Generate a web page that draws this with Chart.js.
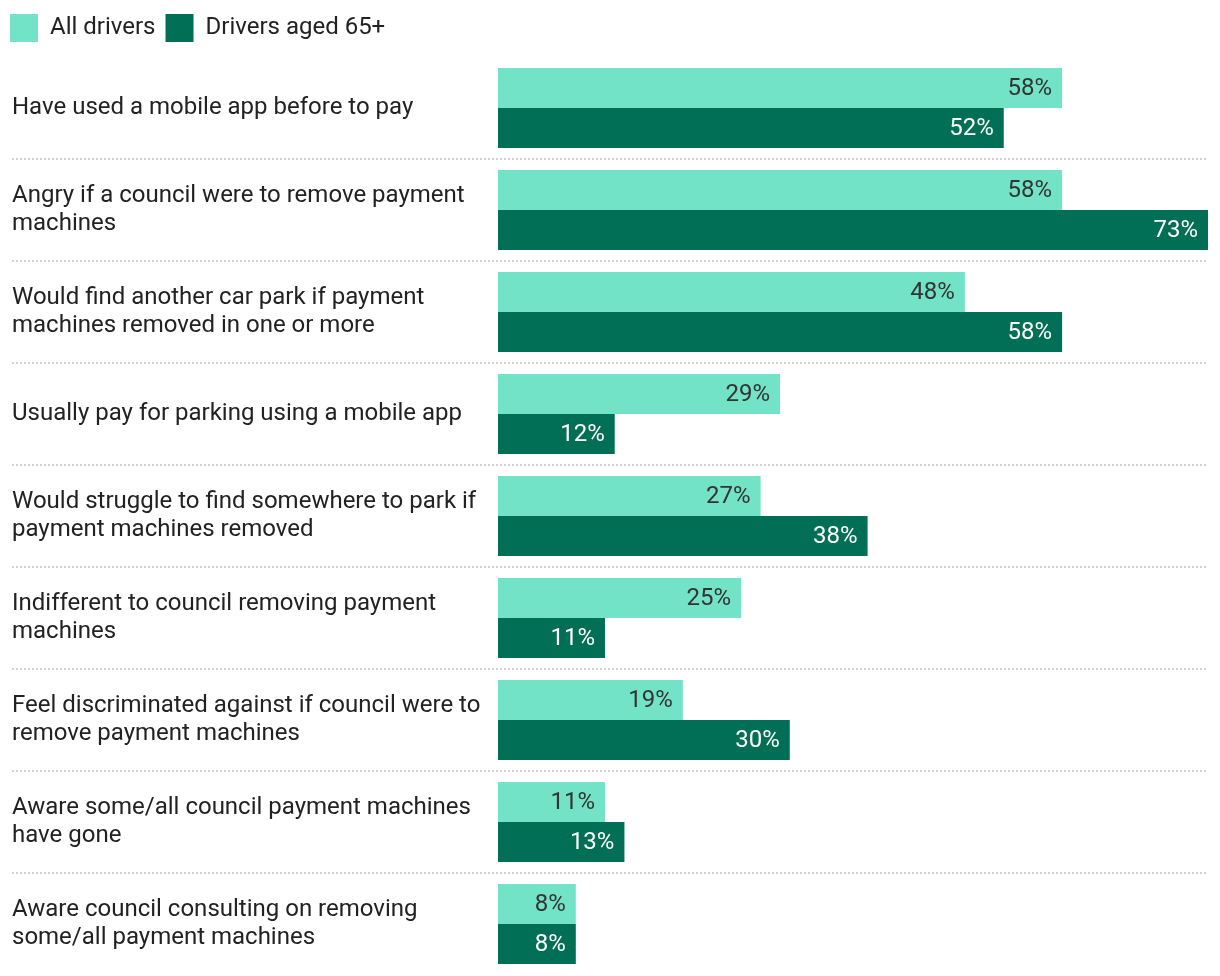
<!DOCTYPE html>
<html>
<head>
<meta charset="utf-8">
<title>Drivers and parking payment machines</title>
<script src="https://cdn.jsdelivr.net/npm/chart.js@4.4.1/dist/chart.umd.min.js"></script>
<style>
  body { margin: 0; background: #fff; }
  #wrap { width: 1220px; height: 976px; position: relative; }
</style>
</head>
<body>
<div id="wrap"><canvas id="surveyChart"></canvas></div>
<script>
// Survey answers, one label per row (already split into lines)
const categories = [
    "Have used a mobile app before to pay",
    ["Angry if a council were to remove payment", "machines"],
    ["Would find another car park if payment", "machines removed in one or more"],
    "Usually pay for parking using a mobile app",
    ["Would struggle to find somewhere to park if", "payment machines removed"],
    ["Indifferent to council removing payment", "machines"],
    ["Feel discriminated against if council were to", "remove payment machines"],
    ["Aware some/all council payment machines", "have gone"],
    ["Aware council consulting on removing", "some/all payment machines"]
];

const seriesNames = ["All drivers", "Drivers aged 65+"];
const allDrivers = [58, 58, 48, 29, 27, 25, 19, 11, 8];
const drivers65 = [52, 73, 58, 12, 38, 11, 30, 13, 8];

const lightGreen = '#72e3c6';
const darkGreen = '#006f55';
const fontName = 'Roboto, "Noto Sans", sans-serif';

// dotted lines between the rows, running under the labels too
const rowSeparators = {
    id: 'rowSeparators',
    beforeDatasetsDraw(chart) {
        const y = chart.scales.y;
        const ctx = chart.ctx;
        ctx.save();
        ctx.strokeStyle = '#d2d2d2';
        ctx.lineWidth = 2;
        ctx.setLineDash([2, 2]);
        for (let i = 1; i < categories.length; i++) {
            const pos = Math.round((y.getPixelForValue(i - 1) + y.getPixelForValue(i)) / 2);
            ctx.beginPath();
            ctx.moveTo(12, pos);
            ctx.lineTo(chart.chartArea.right, pos);
            ctx.stroke();
        }
        ctx.restore();
    }
};

// percentage written inside the end of each bar
const valueLabels = {
    id: 'valueLabels',
    afterDatasetsDraw(chart) {
        const ctx = chart.ctx;
        ctx.save();
        ctx.font = '24px ' + fontName;
        ctx.textAlign = 'right';
        ctx.textBaseline = 'middle';
        chart.data.datasets.forEach(function(ds, di) {
            ctx.fillStyle = di === 0 ? '#333333' : '#ffffff';
            chart.getDatasetMeta(di).data.forEach(function(bar, i) {
                ctx.fillText(ds.data[i] + '%', bar.x - 10, bar.y + 1);
            });
        });
        ctx.restore();
    }
};

// move the row labels a little in from the left edge
const labelInset = {
    id: 'labelInset',
    afterLayout(chart) {
        chart.scales.y.left = 12;
    }
};

const ctx = document.getElementById('surveyChart').getContext('2d');
new Chart(ctx, {
    type: 'bar',
    data: {
        labels: categories,
        datasets: [
            {
                label: seriesNames[0],
                data: allDrivers,
                backgroundColor: lightGreen,
                categoryPercentage: 80 / 102,
                barPercentage: 1
            },
            {
                label: seriesNames[1],
                data: drivers65,
                backgroundColor: darkGreen,
                categoryPercentage: 80 / 102,
                barPercentage: 1
            }
        ]
    },
    options: {
        indexAxis: 'y',
        responsive: true,
        maintainAspectRatio: false,
        animation: false,
        layout: { padding: { top: 4, right: 12, bottom: 1, left: 0 } },
        plugins: {
            legend: {
                position: 'top',
                align: 'start',
                labels: {
                    boxWidth: 28,
                    boxHeight: 28,
                    padding: 10,
                    color: '#222222',
                    font: { family: fontName, size: 24 }
                }
            },
            tooltip: { enabled: false }
        },
        scales: {
            x: {
                position: 'top',
                min: 0,
                max: 73,
                grid: { display: false },
                border: { display: false },
                ticks: { display: false },
                afterFit(scale) { scale.height = 5; }
            },
            y: {
                grid: { display: false },
                border: { display: false },
                ticks: {
                    crossAlign: 'far',
                    color: '#222222',
                    font: { family: fontName, size: 24, lineHeight: 28 / 24 }
                },
                afterFit(scale) {
                    scale.width = 498;
                    scale.paddingTop = 0;
                    scale.paddingBottom = 0;
                }
            }
        }
    },
    plugins: [rowSeparators, valueLabels, labelInset]
});
</script>
</body>
</html>
